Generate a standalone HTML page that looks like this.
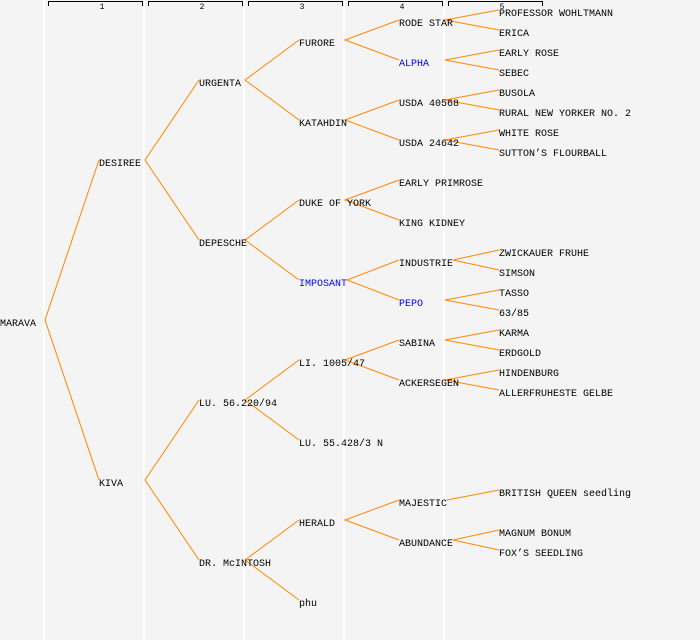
<!DOCTYPE html>
<html><head><meta charset="utf-8"><style>
html,body{margin:0;padding:0;background:#f4f4f4;}
svg{display:block;}
text{font-family:"Liberation Mono","DejaVu Sans Mono",monospace;font-size:10px;fill:#000;}
.b{fill:#0000ff;}
.h{font-size:8px;}
</style></head><body>
<svg width="700" height="640" viewBox="0 0 700 640" xmlns="http://www.w3.org/2000/svg">
<rect width="700" height="640" fill="#f4f4f4"/>
<g stroke="#ffffff" stroke-width="1.5">
<line x1="44" y1="0" x2="44" y2="640"/><line x1="144" y1="0" x2="144" y2="640"/>
<line x1="244" y1="0" x2="244" y2="640"/><line x1="344" y1="0" x2="344" y2="640"/>
<line x1="444" y1="0" x2="444" y2="640"/>
</g>
<g stroke="#000" stroke-width="1" fill="none">
<path d="M48.5 6V1.5H142.5V6"/><path d="M148.5 6V1.5H242.5V6"/><path d="M248.5 6V1.5H342.5V6"/><path d="M348.5 6V1.5H442.5V6"/><path d="M448.5 6V1.5H542.5V6"/>
</g>
<g text-anchor="middle" class="h">
<text class="h" x="102" y="9" text-anchor="middle">1</text>
<text class="h" x="202" y="9" text-anchor="middle">2</text>
<text class="h" x="302" y="9" text-anchor="middle">3</text>
<text class="h" x="402" y="9" text-anchor="middle">4</text>
<text class="h" x="502" y="9" text-anchor="middle">5</text>
</g>
<g stroke="#ff8800" stroke-width="1" fill="none">
<polyline points="99,160 45,320 99,480"/>
<polyline points="199,80 145,160 199,240"/>
<polyline points="199,400 145,480 199,560"/>
<polyline points="299,40 245,80 299,120"/>
<polyline points="299,200 245,240 299,280"/>
<polyline points="299,360 245,400 299,440"/>
<polyline points="299,520 245,560 299,600"/>
<polyline points="399,20 345,40 399,60"/>
<polyline points="399,100 345,120 399,140"/>
<polyline points="399,180 345,200 399,220"/>
<polyline points="399,260 347,280 399,300"/>
<polyline points="399,340 345,360 399,380"/>
<polyline points="399,500 345,520 399,540"/>
<polyline points="499,10 445,20 499,30"/>
<polyline points="499,50 445,60 499,70"/>
<polyline points="499,90 445,100 499,110"/>
<polyline points="499,130 445,140 499,150"/>
<polyline points="499,250 453,260 499,270"/>
<polyline points="499,290 445,300 499,310"/>
<polyline points="499,330 445,340 499,350"/>
<polyline points="499,370 445,380 499,390"/>
<line x1="447" y1="500" x2="499" y2="490"/>
<polyline points="499,530 453,540 499,550"/>
</g>
<g>
<text x="0" y="326">MARAVA</text>
<text x="99" y="166">DESIREE</text>
<text x="99" y="486">KIVA</text>
<text x="199" y="86">URGENTA</text>
<text x="199" y="246">DEPESCHE</text>
<text x="199" y="406">LU. 56.220/94</text>
<text x="199" y="566">DR. McINTOSH</text>
<text x="299" y="46">FURORE</text>
<text x="299" y="126">KATAHDIN</text>
<text x="299" y="206">DUKE OF YORK</text>
<text x="299" y="286" class="b">IMPOSANT</text>
<text x="299" y="366">LI. 1005/47</text>
<text x="299" y="446">LU. 55.428/3 N</text>
<text x="299" y="526">HERALD</text>
<text x="299" y="606">phu</text>
<text x="399" y="26">RODE STAR</text>
<text x="399" y="66" class="b">ALPHA</text>
<text x="399" y="106">USDA 40568</text>
<text x="399" y="146">USDA 24642</text>
<text x="399" y="186">EARLY PRIMROSE</text>
<text x="399" y="226">KING KIDNEY</text>
<text x="399" y="266">INDUSTRIE</text>
<text x="399" y="306" class="b">PEPO</text>
<text x="399" y="346">SABINA</text>
<text x="399" y="386">ACKERSEGEN</text>
<text x="399" y="506">MAJESTIC</text>
<text x="399" y="546">ABUNDANCE</text>
<text x="499" y="16">PROFESSOR WOHLTMANN</text>
<text x="499" y="36">ERICA</text>
<text x="499" y="56">EARLY ROSE</text>
<text x="499" y="76">SEBEC</text>
<text x="499" y="96">BUSOLA</text>
<text x="499" y="116">RURAL NEW YORKER NO. 2</text>
<text x="499" y="136">WHITE ROSE</text>
<text x="499" y="156">SUTTON’S FLOURBALL</text>
<text x="499" y="256">ZWICKAUER FRUHE</text>
<text x="499" y="276">SIMSON</text>
<text x="499" y="296">TASSO</text>
<text x="499" y="316">63/85</text>
<text x="499" y="336">KARMA</text>
<text x="499" y="356">ERDGOLD</text>
<text x="499" y="376">HINDENBURG</text>
<text x="499" y="396">ALLERFRUHESTE GELBE</text>
<text x="499" y="496">BRITISH QUEEN seedling</text>
<text x="499" y="536">MAGNUM BONUM</text>
<text x="499" y="556">FOX’S SEEDLING</text>
</g>
</svg>
</body></html>
